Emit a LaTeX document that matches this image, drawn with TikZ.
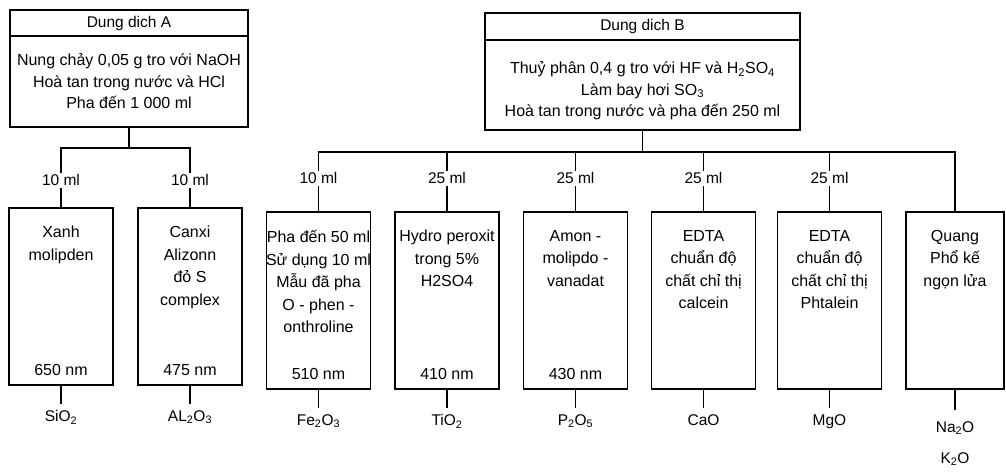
\documentclass[tikz,border=0pt]{standalone}
\usepackage{fontspec}
\setmainfont{Liberation Sans}
\usetikzlibrary{positioning}

\begin{document}
\begin{tikzpicture}[x=1pt, y=-1pt, node distance=10pt,
    panel/.style={rectangle, draw, line width=1.3pt, inner sep=0pt, outer sep=0pt,
                  font=\fontsize{15.5}{18}\selectfont},
    steps/.style={align=center, font=\fontsize{16}{21.5}\selectfont, inner sep=1pt},
    assay/.style={rectangle, draw, line width=1.3pt, minimum width=104pt,
                  minimum height=177pt, inner sep=0pt, outer sep=0pt},
    recipe/.style={align=center, font=\fontsize{16}{22.5}\selectfont, inner sep=1pt},
    wave/.style={font=\fontsize{16}{18}\selectfont, inner sep=1pt},
    oxide/.style={align=center, font=\fontsize{15.5}{18}\selectfont, inner sep=1pt},
    vol/.style={fill=white, font=\fontsize{15.5}{18}\selectfont, inner sep=1.5pt},
    link/.style={line width=1.2pt}]

    \useasboundingbox (0,0) rectangle (1006,471);

    % solution A
    \node[panel, minimum width=238pt, minimum height=26pt] (hdrA) at (129,23) {Dung dich A};
    \node[panel, minimum width=238pt, minimum height=91pt, below=0pt of hdrA] (bodyA) {};
    \node[steps] (stepsA) at (bodyA.center) {Nung chảy 0,05 g tro với NaOH\\Hoà tan trong nước và HCl\\Pha đến 1 000 ml};

    % solution B
    \node[panel, minimum width=315pt, minimum height=27pt] (hdrB) at (642.5,26.5) {Dung dich B};
    \node[panel, minimum width=315pt, minimum height=90pt, below=0pt of hdrB] (bodyB) {};
    \node[steps] (stepsB) at ([yshift=-6pt]bodyB.center) {Thuỷ phân 0,4 g tro với HF và H\textsubscript{2}SO\textsubscript{4}\\Làm bay hơi SO\textsubscript{3}\\Hoà tan trong nước và pha đến 250 ml};

    \coordinate (busA) at (129,148);
    \coordinate (busB) at (642.5,152);

    % analysis boxes
    \node[assay] (siBox) at (61,296.5) {};
    \node[assay] (alBox) at (190,296.5) {};
    \node[assay] (feBox) at (318.5,300.5) {};
    \node[assay] (tiBox) at (447,300.5) {};
    \node[assay] (pBox) at (575.5,300.5) {};
    \node[assay] (caBox) at (703.5,300.5) {};
    \node[assay] (mgBox) at (829.5,300.5) {};
    \node[assay, minimum width=98pt] (naBox) at (955,300.5) {};

    \node[recipe, below=17pt of siBox.north] (siTxt) {Xanh\\molipden};
    \node[recipe, below=17pt of alBox.north] (alTxt) {Canxi\\Alizonn\\đỏ S\\complex};
    \node[recipe, below=17pt of feBox.north] (feTxt) {Pha đến 50 ml\\Sử dụng 10 ml\\Mẫu đã pha\\O - phen -\\onthroline};
    \node[recipe, below=17pt of tiBox.north] (tiTxt) {Hydro peroxit\\trong 5\%\\H2SO4};
    \node[recipe, below=17pt of pBox.north] (pTxt) {Amon -\\molipdo -\\vanadat};
    \node[recipe, below=17pt of caBox.north] (caTxt) {EDTA\\chuẩn độ\\chất chỉ thị\\calcein};
    \node[recipe, below=17pt of mgBox.north] (mgTxt) {EDTA\\chuẩn độ\\chất chỉ thị\\Phtalein};
    \node[recipe, below=17pt of naBox.north] (naTxt) {Quang\\Phổ kế\\ngọn lửa};

    \node[wave, above=8pt of siBox.south] (siNm) {650 nm};
    \node[wave, above=8pt of alBox.south] (alNm) {475 nm};
    \node[wave, above=8pt of feBox.south] (feNm) {510 nm};
    \node[wave, above=8pt of tiBox.south] (tiNm) {410 nm};
    \node[wave, above=8pt of pBox.south] (pNm) {430 nm};

    % oxides
    \node[oxide, below=24pt of siBox.south] (siOx) {SiO\textsubscript{2}};
    \node[oxide, below=24pt of alBox.south] (alOx) {AL\textsubscript{2}O\textsubscript{3}};
    \node[oxide, below=24pt of feBox.south] (feOx) {Fe\textsubscript{2}O\textsubscript{3}};
    \node[oxide, below=24pt of tiBox.south] (tiOx) {TiO\textsubscript{2}};
    \node[oxide, below=24pt of pBox.south] (pOx) {P\textsubscript{2}O\textsubscript{5}};
    \node[oxide, below=24pt of caBox.south] (caOx) {CaO};
    \node[oxide, below=24pt of mgBox.south] (mgOx) {MgO};
    \node[oxide, below=31pt of naBox.south] (naOx) {Na\textsubscript{2}O\\[13pt]K\textsubscript{2}O};

    % tree
    \draw[link] (bodyA) -- (busA);
    \draw[link] (siBox.north) |- node[vol, pos=0.23] (siVol) {10 ml} (busA);
    \draw[link] (alBox.north) |- node[vol, pos=0.23] (alVol) {10 ml} (busA);

    \draw[link] (bodyB) -- (busB);
    \draw[link] (feBox.north) |- node[vol, pos=0.28] (feVol) {10 ml} (busB);
    \draw[link] (tiBox.north) |- node[vol, pos=0.28] (tiVol) {25 ml} (busB);
    \draw[link] (pBox.north) |- node[vol, pos=0.28] (pVol) {25 ml} (busB);
    \draw[link] (caBox.north) |- node[vol, pos=0.28] (caVol) {25 ml} (busB);
    \draw[link] (mgBox.north) |- node[vol, pos=0.28] (mgVol) {25 ml} (busB);
    \draw[link] (naBox.north) |- (busB);

    \draw[link, shorten >=5pt] (siBox.south) -- (siOx.north);
    \draw[link, shorten >=5pt] (alBox.south) -- (alOx.north);
    \draw[link, shorten >=5pt] (feBox.south) -- (feOx.north);
    \draw[link, shorten >=5pt] (tiBox.south) -- (tiOx.north);
    \draw[link, shorten >=5pt] (pBox.south) -- (pOx.north);
    \draw[link, shorten >=5pt] (caBox.south) -- (caOx.north);
    \draw[link, shorten >=5pt] (mgBox.south) -- (mgOx.north);
    \draw[link, shorten >=10pt] (naBox.south) -- (naOx.north);
\end{tikzpicture}
\end{document}
